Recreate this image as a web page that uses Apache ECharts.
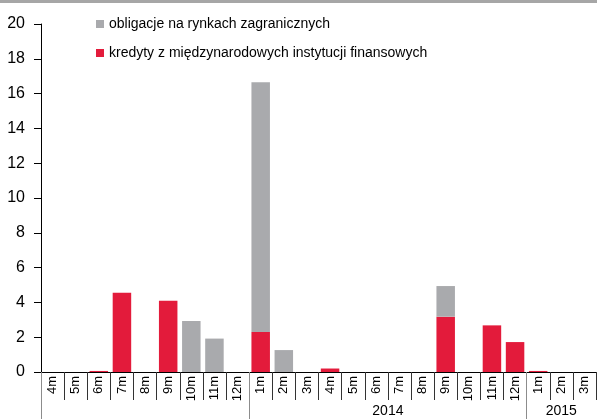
<!DOCTYPE html>
<html>
<head>
<meta charset="utf-8">
<script src="https://cdn.jsdelivr.net/npm/echarts@6/dist/echarts.min.js"></script>
<style>
  html, body { margin: 0; padding: 0; background: #fff; }
  #main { width: 597px; height: 419px; }
</style>
</head>
<body>
<div id="main"></div>
<script>
// miesiące 4m 2013 .. 3m 2015
var months = ['4m', '5m', '6m', '7m', '8m', '9m', '10m', '11m', '12m',
  '1m', '2m', '3m', '4m', '5m', '6m', '7m', '8m', '9m', '10m', '11m', '12m',
  '1m', '2m', '3m'];
var kredyty = [0, 0, 0.06, 4.55, 0, 4.1, 0, 0, 0,
  2.3, 0, 0, 0.2, 0, 0, 0, 0, 3.18, 0, 2.68, 1.72,
  0.06, 0, 0];
var obligacje = [0, 0, 0, 0, 0, 0, 2.93, 1.92, 0,
  14.35, 1.26, 0, 0, 0, 0, 0, 0, 1.76, 0, 0, 0,
  0, 0, 0];
var yearTicks = [0, 9, 21];           // granice lat (indeks kategorii)
var yearLabels = { 15: '2014', 22.5: '2015' };

var font = "'Liberation Sans', Arial, sans-serif";
var myChart = echarts.init(document.getElementById('main'));

var option = {
  animation: false,
  textStyle: { fontFamily: font },
  graphic: [{
    type: 'rect', left: 0, top: 0,
    shape: { width: 597, height: 3 },
    style: { fill: '#a6a6a6' }
  }],
  grid: { left: 41, right: 1, top: 24, bottom: 47 },
  legend: {
    orient: 'vertical',
    left: 91, top: 12,
    itemWidth: 8, itemHeight: 8,
    itemGap: 15, itemTextGap: 3,
    icon: 'rect',
    textStyle: { fontSize: 14, color: '#000', fontFamily: font },
    data: ['obligacje na rynkach zagranicznych', 'kredyty z międzynarodowych instytucji finansowych']
  },
  xAxis: [
    {
      type: 'category',
      data: months,
      axisLine: { lineStyle: { color: '#000', width: 1 } },
      axisTick: { show: true, interval: 0, length: 28, lineStyle: { color: '#333' } },
      axisLabel: { interval: 0, rotate: 90, fontSize: 13, margin: 4, color: '#000', fontFamily: font }
    },
    {
      type: 'value',
      position: 'bottom',
      min: 0, max: 24,
      axisLine: { show: false },
      splitLine: { show: false },
      axisTick: { show: true, customValues: yearTicks, length: 47, lineStyle: { color: '#8c8c8c' } },
      axisLabel: {
        customValues: [15, 22.5],
        margin: 32, fontSize: 14, color: '#000', fontFamily: font,
        formatter: function (v) { return yearLabels[v] || ''; }
      }
    }
  ],
  yAxis: {
    type: 'value',
    min: 0, max: 20, interval: 2,
    axisLine: { show: true, lineStyle: { color: '#000' } },
    axisTick: { show: true, length: 7, lineStyle: { color: '#000' } },
    splitLine: { show: false },
    axisLabel: { fontSize: 16, margin: 16, color: '#000', fontFamily: font }
  },
  series: [
    {
      name: 'kredyty z międzynarodowych instytucji finansowych',
      type: 'bar', stack: 'total',
      xAxisIndex: 0,
      barCategoryGap: '20%',
      itemStyle: { color: '#e31b3b' },
      data: kredyty
    },
    {
      name: 'obligacje na rynkach zagranicznych',
      type: 'bar', stack: 'total',
      xAxisIndex: 0,
      barCategoryGap: '20%',
      itemStyle: { color: '#a9aaad' },
      data: obligacje
    }
  ]
};

myChart.setOption(option);
</script>
</body>
</html>
